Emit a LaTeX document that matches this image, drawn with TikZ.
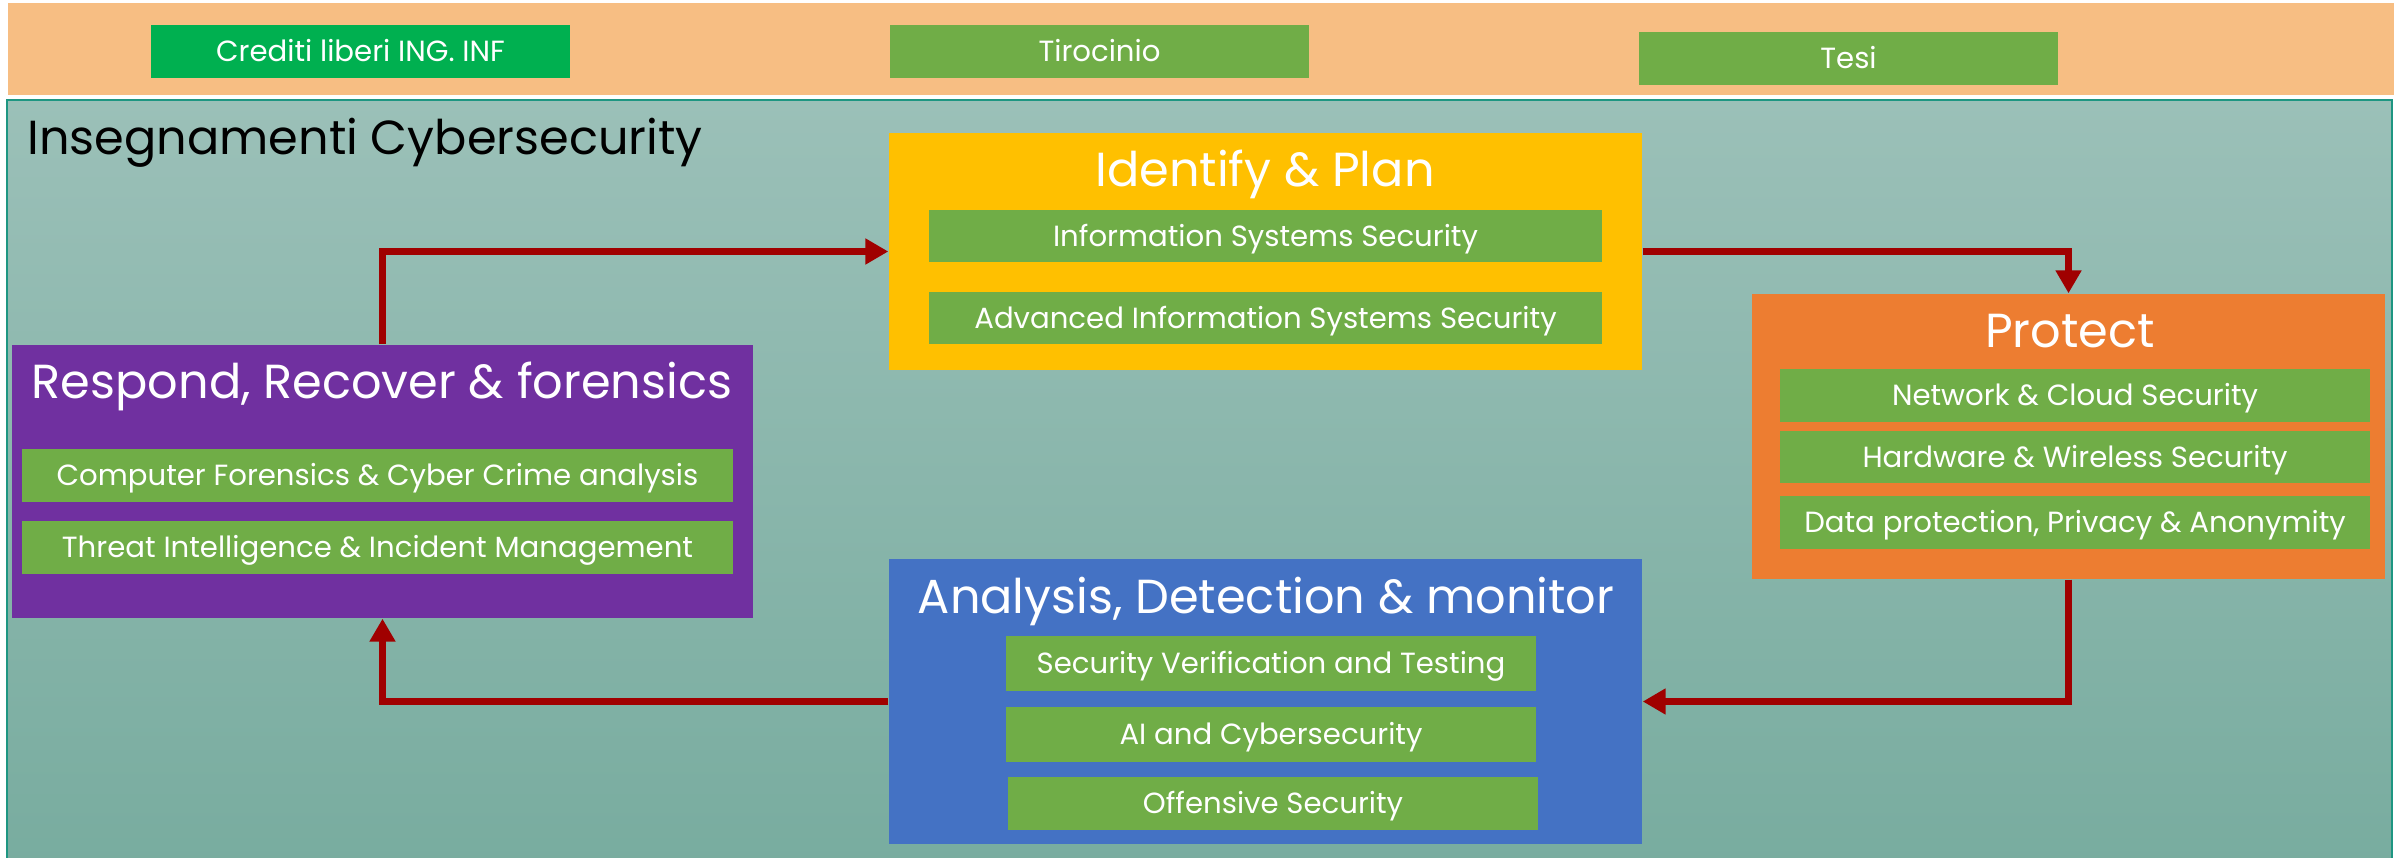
\documentclass[tikz,border=0pt]{standalone}
\usepackage{fontspec}
\setmainfont{Poppins}
\usepackage{tikz}
\usetikzlibrary{arrows.meta}
\definecolor{bandorange}{RGB}{247,190,131}
\definecolor{freegreen}{RGB}{0,176,80}
\definecolor{subgreen}{RGB}{112,173,71}
\definecolor{identyellow}{RGB}{255,192,0}
\definecolor{protorange}{RGB}{237,125,49}
\definecolor{resppurple}{RGB}{112,48,160}
\definecolor{analblue}{RGB}{68,114,196}
\definecolor{flowred}{RGB}{160,0,0}
\definecolor{frametop}{RGB}{155,192,184}
\definecolor{framebot}{RGB}{120,172,159}
\definecolor{frameline}{RGB}{30,150,130}
\tikzstyle{phase}=[rectangle, inner sep=0pt]
\tikzstyle{phasetitle}=[anchor=base, text=white, font=\fontsize{13.6}{16}\selectfont]
\tikzstyle{course}=[rectangle, fill=subgreen, text=white, inner sep=0pt, text height=5.8pt, text depth=0pt, font=\fontsize{8.3}{10}\selectfont]
\tikzstyle{flow}=[draw=flowred, line width=2pt, -{Triangle[width=7pt,length=6.5pt]}]

\begin{document}
\begin{tikzpicture}
    \useasboundingbox (0,0) rectangle (24,-8.58);
    % top band
    \fill[bandorange] (0.08,-0.03) rectangle (23.94,-0.95);
    \node[course, fill=freegreen, minimum width=4.19cm, minimum height=.53cm] (free) at (3.605,-0.515) {Crediti liberi ING. INF};
    \node[course, minimum width=4.19cm, minimum height=.53cm] (stage) at (10.995,-0.515) {Tirocinio};
    \node[course, minimum width=4.19cm, minimum height=.53cm] (thesis) at (18.485,-0.585) {Tesi};
    % frame
    \shade[draw=frameline, line width=.6pt, top color=frametop, bottom color=framebot] (0.07,-1.00) rectangle (23.92,-8.70);
    \node[anchor=base west, font=\fontsize{13.6}{16}\selectfont] (frametitle) at (0.15,-1.55) {Insegnamenti Cybersecurity};
    % phases
    \node[phase, fill=identyellow, minimum width=7.53cm, minimum height=2.37cm] (ident) at (12.655,-2.515) {};
    \node[phasetitle] (identtitle) at (12.65,-1.87) {Identify \& Plan};
    \node[course, minimum width=6.73cm, minimum height=.52cm] (iss) at (12.655,-2.36) {Information Systems Security};
    \node[course, minimum width=6.73cm, minimum height=.52cm] (aiss) at (12.655,-3.18) {Advanced Information Systems Security};

    \node[phase, fill=protorange, minimum width=6.33cm, minimum height=2.85cm] (prot) at (20.685,-4.365) {};
    \node[phasetitle] (prottitle) at (20.70,-3.48) {Protect};
    \node[course, minimum width=5.90cm, minimum height=.53cm] (ncs) at (20.75,-3.955) {Network \& Cloud Security};
    \node[course, minimum width=5.90cm, minimum height=.52cm] (hws) at (20.75,-4.575) {Hardware \& Wireless Security};
    \node[course, minimum width=5.90cm, minimum height=.53cm] (dpa) at (20.75,-5.225) {Data protection, Privacy \& Anonymity};

    \node[phase, fill=analblue, minimum width=7.53cm, minimum height=2.85cm] (anal) at (12.655,-7.015) {};
    \node[phasetitle] (analtitle) at (12.66,-6.13) {Analysis, Detection \& monitor};
    \node[course, minimum width=5.30cm, minimum height=.55cm] (svt) at (12.71,-6.635) {Security Verification and Testing};
    \node[course, minimum width=5.30cm, minimum height=.55cm] (aic) at (12.71,-7.345) {AI and Cybersecurity};
    \node[course, minimum width=5.30cm, minimum height=.53cm] (off) at (12.73,-8.035) {Offensive Security};

    \node[phase, fill=resppurple, minimum width=7.41cm, minimum height=2.73cm] (resp) at (3.825,-4.815) {};
    \node[phasetitle] (resptitle) at (3.82,-3.99) {Respond, Recover \& forensics};
    \node[course, minimum width=7.11cm, minimum height=.53cm] (cfc) at (3.775,-4.755) {Computer Forensics \& Cyber Crime analysis};
    \node[course, minimum width=7.11cm, minimum height=.53cm] (tim) at (3.775,-5.475) {Threat Intelligence \& Incident Management};
    % cycle
    \draw[flow] (ident.east) -| (prot.north);
    \draw[flow] (prot.south) |- (anal.east);
    \draw[flow] (anal.west) -| (resp.south);
    \draw[flow] (resp.north) |- (ident.west);
\end{tikzpicture}
\end{document}
